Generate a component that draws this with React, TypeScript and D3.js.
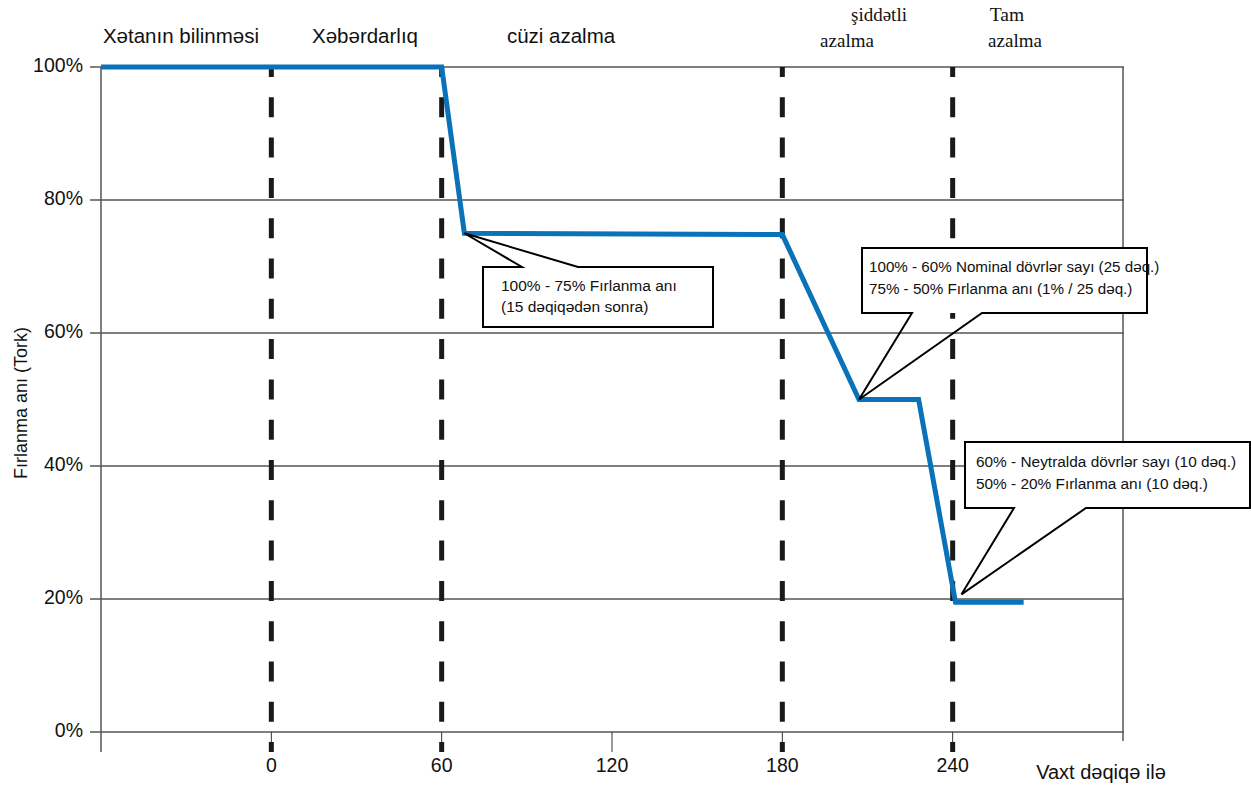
import React from "react";
import * as d3 from "d3";

const times = [-60, 60, 68, 180, 207, 228, 241, 265];
const torque = [100, 100, 75, 74.8, 50, 50, 19.5, 19.5];
const yTicks = [0, 20, 40, 60, 80, 100];
const xTicks = [0, 60, 120, 180, 240];
const phaseBoundaries = [0, 60, 180, 240];
const phaseLabelsSans = ["Xətanın bilinməsi", "Xəbərdarlıq", "cüzi azalma"];
const phaseLabelsSerif = [["şiddətli", "azalma"], ["Tam", "azalma"]];
const callout1 = ["100% - 75% Fırlanma anı", "(15 dəqiqədən sonra)"];
const callout2 = ["100% - 60% Nominal dövrlər sayı (25 dəq.)", "75% - 50% Fırlanma anı (1% / 25 dəq.)"];
const callout3 = ["60% - Neytralda dövrlər sayı (10 dəq.)", "50% - 20% Fırlanma anı (10 dəq.)"];

const W = 1251, H = 787;
const sans = "'Liberation Sans', Arial, sans-serif";
const serif = "'Liberation Serif', 'Times New Roman', serif";

const x = d3.scaleLinear().domain([-60, 300]).range([101, 1123]);
const y = d3.scaleLinear().domain([0, 100]).range([732, 67]);

type Box = { x0: number; y0: number; x1: number; y1: number; side: "top" | "bottom"; b0: number; b1: number; tip: [number, number] };

function Callout({ box, lines, tx, ty, fs, lh }: { box: Box; lines: string[]; tx: number; ty: number; fs: number; lh: number }) {
  const { x0, y0, x1, y1, side, b0, b1, tip } = box;
  let d: string;
  if (side === "top") {
    d = `M${x0},${y0}L${b0},${y0}L${tip[0]},${tip[1]}L${b1},${y0}L${x1},${y0}L${x1},${y1}L${x0},${y1}Z`;
  } else {
    d = `M${x0},${y0}L${x1},${y0}L${x1},${y1}L${b1},${y1}L${tip[0]},${tip[1]}L${b0},${y1}L${x0},${y1}Z`;
  }
  return (
    <g>
      <rect x={x0} y={y0} width={x1 - x0} height={y1 - y0} fill="#fff" />
      <path d={d} fill="none" stroke="#000" strokeWidth={2} strokeLinejoin="miter" />
      {lines.map((t, i) => (
        <text key={i} x={tx} y={ty + i * lh} fontSize={fs} fontFamily={sans} fill="#111" dominantBaseline="middle">
          {t}
        </text>
      ))}
    </g>
  );
}

export default function App() {
  const line = d3
    .line<number>()
    .x((_, i) => x(times[i]))
    .y((v) => y(v));
  const pathD = line(torque) || "";

  const p1: [number, number] = [x(times[2]), y(torque[2])];
  const p2: [number, number] = [x(times[4]), y(torque[4])];
  const p3: [number, number] = [x(times[6]) + 6, y(torque[6]) - 8];

  const sansX = [181, 365, 561];

  return (
    <svg width={W} height={H} style={{ position: "absolute", left: 0, top: 0, background: "#fff" }}>
      {/* gridlines */}
      {yTicks.map((t) => (
        <g key={t}>
          <line x1={90} x2={1124} y1={y(t)} y2={y(t)} stroke="#555" strokeWidth={1.3} />
          <text x={83} y={y(t)} textAnchor="end" dominantBaseline="middle" fontSize={19.5} fontFamily={sans} fill="#111">
            {t}%
          </text>
        </g>
      ))}
      {/* left axis */}
      <line x1={101} x2={101} y1={y(100)} y2={752} stroke="#555" strokeWidth={1.5} />
      {/* right border */}
      <line x1={1123} x2={1123} y1={y(100)} y2={741} stroke="#555" strokeWidth={1.5} />
      {/* x tick marks and labels */}
      {xTicks.map((t) => (
        <g key={t}>
          <line x1={x(t)} x2={x(t)} y1={y(0)} y2={752} stroke="#333" strokeWidth={1} />
          <text x={x(t)} y={767} textAnchor="middle" dominantBaseline="middle" fontSize={19.5} fontFamily={sans} fill="#111">
            {t}
          </text>
        </g>
      ))}
      {/* dashed phase boundaries */}
      {phaseBoundaries.map((t) => (
        <line
          key={t}
          x1={x(t)}
          x2={x(t)}
          y1={y(100)}
          y2={752}
          stroke="#1a1a1a"
          strokeWidth={5}
          strokeDasharray="20 20.3"
          strokeDashoffset={10}
        />
      ))}
      {/* torque line */}
      <path d={pathD} fill="none" stroke="#0a72b8" strokeWidth={5} strokeLinejoin="miter" />

      {/* callouts */}
      <Callout
        box={{ x0: 483, y0: 267, x1: 713, y1: 327, side: "top", b0: 522, b1: 578, tip: p1 }}
        lines={callout1}
        tx={501}
        ty={287}
        fs={15.5}
        lh={21}
      />
      <Callout
        box={{ x0: 862, y0: 248, x1: 1147, y1: 313, side: "bottom", b0: 912, b1: 982, tip: p2 }}
        lines={callout2}
        tx={869}
        ty={268}
        fs={15.2}
        lh={22}
      />
      <Callout
        box={{ x0: 965, y0: 442, x1: 1250, y1: 508, side: "bottom", b0: 1014, b1: 1086, tip: p3 }}
        lines={callout3}
        tx={976}
        ty={463}
        fs={15.4}
        lh={22}
      />

      {/* phase labels */}
      {phaseLabelsSans.map((t, i) => (
        <text key={t} x={sansX[i]} y={38} textAnchor="middle" dominantBaseline="middle" fontSize={20.5} fontFamily={sans} fill="#111">
          {t}
        </text>
      ))}
      <text x={879} y={17} textAnchor="middle" dominantBaseline="middle" fontSize={19} fontFamily={serif} fill="#111">
        {phaseLabelsSerif[0][0]}
      </text>
      <text x={847} y={43} textAnchor="middle" dominantBaseline="middle" fontSize={19} fontFamily={serif} fill="#111">
        {phaseLabelsSerif[0][1]}
      </text>
      <text x={1007} y={17} textAnchor="middle" dominantBaseline="middle" fontSize={19.5} fontFamily={serif} fill="#111">
        {phaseLabelsSerif[1][0]}
      </text>
      <text x={1015} y={43} textAnchor="middle" dominantBaseline="middle" fontSize={19} fontFamily={serif} fill="#111">
        {phaseLabelsSerif[1][1]}
      </text>

      {/* axis titles */}
      <text
        transform={`translate(22,403) rotate(-90)`}
        textAnchor="middle"
        dominantBaseline="middle"
        fontSize={18}
        fontFamily={sans}
        fill="#111"
      >
        Fırlanma anı (Tork)
      </text>
      <text x={1101} y={774} textAnchor="middle" dominantBaseline="middle" fontSize={20} fontFamily={sans} fill="#111">
        Vaxt dəqiqə ilə
      </text>
    </svg>
  );
}
